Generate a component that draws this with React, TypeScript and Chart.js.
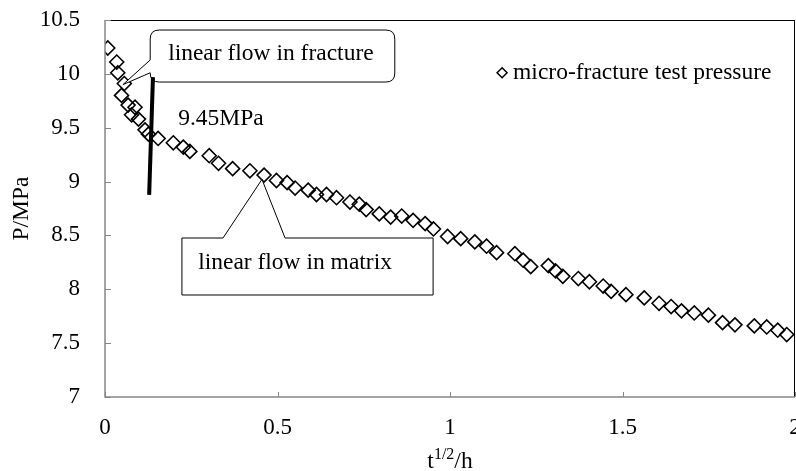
import { useEffect, useRef } from "react";
import { Chart, registerables } from "chart.js";

Chart.register(...registerables);

// ---- data ----
const timeSqrt = [
  0.008, 0.034, 0.037, 0.056, 0.048, 0.067, 0.087, 0.077, 0.097, 0.116,
  0.126, 0.154, 0.198, 0.227, 0.246, 0.302, 0.329, 0.37, 0.42, 0.461,
  0.497, 0.528, 0.551, 0.589, 0.613, 0.642, 0.671, 0.71, 0.737, 0.757,
  0.795, 0.828, 0.86, 0.893, 0.928, 0.952, 0.993, 1.031, 1.072, 1.106,
  1.135, 1.188, 1.212, 1.234, 1.285, 1.306, 1.327, 1.372, 1.404, 1.444,
  1.467, 1.51, 1.563, 1.606, 1.641, 1.671, 1.708, 1.749, 1.79, 1.826,
  1.882, 1.918, 1.95, 1.976,
];
const pressure = [
  10.24, 10.11, 10.01, 9.91, 9.8, 9.71, 9.69, 9.62, 9.58, 9.48,
  9.44, 9.4, 9.36, 9.32, 9.28, 9.24, 9.17, 9.12, 9.1, 9.06,
  9.01, 8.99, 8.94, 8.92, 8.88, 8.88, 8.85, 8.81, 8.79, 8.74,
  8.7, 8.67, 8.68, 8.64, 8.61, 8.56, 8.49, 8.47, 8.44, 8.4,
  8.34, 8.33, 8.27, 8.21, 8.22, 8.17, 8.12, 8.1, 8.07, 8.03,
  7.98, 7.95, 7.92, 7.87, 7.84, 7.8, 7.78, 7.76, 7.69, 7.67,
  7.66, 7.65, 7.62, 7.58,
];
const xTickValues = [0, 0.5, 1, 1.5, 2];
const yTickValues = [7, 7.5, 8, 8.5, 9, 9.5, 10, 10.5];

const seriesLabel = "micro-fracture test pressure";
const fractureLabel = "linear flow in fracture";
const matrixLabel = "linear flow in matrix";
const pressureNote = "9.45MPa";
const yTitle = "P/MPa";
const xTitleBase = "t";
const xTitleSup = "1/2";
const xTitleRest = "/h";

// ---- annotation anchors, in data units ----
const fractureBox = { x0: 0.131, x1: 0.84, yTop: 10.407, yBot: 9.924, baseTop: 10.129, baseBot: 10.01, tipX: 0.052, tipY: 9.9, textX: 0.183, textY: 10.19 };
const matrixBox = { x0: 0.223, x1: 0.951, yTop: 8.476, yBot: 7.947, base1: 0.342, base2: 0.522, tipX: 0.455, tipY: 9.02, textX: 0.27, textY: 8.25 };
const thickLine = { x0: 0.139, y0: 9.97, x1: 0.128, y1: 8.876 };
const noteAt = { x: 0.212, y: 9.58 };
const legendAt = { x: 1.151, y: 10.01 };

const SERIF = "'Liberation Serif', 'Times New Roman', serif";
const TEXT_SIZE = 23.5;
const TICK_SIZE = 23;

const decor = {
  id: "decor",
  afterDatasetsDraw(chart: any) {
    const { ctx, chartArea: ca } = chart;
    const xs = chart.scales.x;
    const ys = chart.scales.y;
    const px = (v: number) => xs.getPixelForValue(v);
    const py = (v: number) => ys.getPixelForValue(v);
    ctx.save();

    // frame
    ctx.lineWidth = 1;
    ctx.strokeStyle = "#000";
    ctx.beginPath();
    ctx.moveTo(ca.left, ca.top + 0.5);
    ctx.lineTo(ca.right, ca.top + 0.5);
    ctx.moveTo(ca.right - 0.5, ca.top);
    ctx.lineTo(ca.right - 0.5, ca.bottom);
    ctx.stroke();
    ctx.strokeStyle = "#868686";
    ctx.lineWidth = 1.5;
    ctx.beginPath();
    ctx.moveTo(ca.left, ca.top);
    ctx.lineTo(ca.left, ca.bottom);
    ctx.lineTo(ca.right, ca.bottom);
    ctx.stroke();
    // inside tick marks
    ctx.lineWidth = 1;
    ctx.beginPath();
    for (const v of xTickValues) {
      const x = Math.round(px(v)) + 0.5;
      ctx.moveTo(x, ca.bottom);
      ctx.lineTo(x, ca.bottom - 5);
    }
    for (const v of yTickValues) {
      const y = Math.round(py(v)) + 0.5;
      ctx.moveTo(ca.left, y);
      ctx.lineTo(ca.left + 6, y);
    }
    ctx.stroke();

    // fracture callout (rounded box with pointer on left edge)
    const f = fractureBox;
    const L = px(f.x0), R = px(f.x1), T = py(f.yTop), B = py(f.yBot);
    const r = 9;
    ctx.beginPath();
    ctx.moveTo(L, py(f.baseTop));
    ctx.lineTo(L, T + r);
    ctx.quadraticCurveTo(L, T, L + r, T);
    ctx.lineTo(R - r, T);
    ctx.quadraticCurveTo(R, T, R, T + r);
    ctx.lineTo(R, B - r);
    ctx.quadraticCurveTo(R, B, R - r, B);
    ctx.lineTo(L + r, B);
    ctx.quadraticCurveTo(L, B, L, B - r);
    ctx.lineTo(L, py(f.baseBot));
    ctx.lineTo(px(f.tipX), py(f.tipY));
    ctx.closePath();
    ctx.fillStyle = "#fff";
    ctx.fill();
    ctx.strokeStyle = "#000";
    ctx.lineWidth = 1;
    ctx.stroke();

    // matrix callout (plain box with pointer on top edge)
    const m = matrixBox;
    const mL = px(m.x0), mR = px(m.x1), mT = py(m.yTop), mB = py(m.yBot);
    ctx.beginPath();
    ctx.moveTo(mL, mT);
    ctx.lineTo(px(m.base1), mT);
    ctx.lineTo(px(m.tipX), py(m.tipY));
    ctx.lineTo(px(m.base2), mT);
    ctx.lineTo(mR, mT);
    ctx.lineTo(mR, mB);
    ctx.lineTo(mL, mB);
    ctx.closePath();
    ctx.fill();
    ctx.stroke();

    // thick line
    ctx.lineWidth = 4;
    ctx.beginPath();
    ctx.moveTo(px(thickLine.x0), py(thickLine.y0));
    ctx.lineTo(px(thickLine.x1), py(thickLine.y1));
    ctx.stroke();

    // texts
    ctx.fillStyle = "#000";
    ctx.font = `${TEXT_SIZE}px ${SERIF}`;
    ctx.textBaseline = "middle";
    ctx.textAlign = "left";
    ctx.fillText(fractureLabel, px(f.textX), py(f.textY));
    ctx.fillText(matrixLabel, px(m.textX), py(m.textY));
    ctx.fillText(pressureNote, px(noteAt.x), py(noteAt.y));

    // legend
    const lx = px(legendAt.x), ly = py(legendAt.y);
    ctx.lineWidth = 1.5;
    ctx.beginPath();
    ctx.moveTo(lx - 5, ly);
    ctx.lineTo(lx, ly - 5);
    ctx.lineTo(lx + 5, ly);
    ctx.lineTo(lx, ly + 5);
    ctx.closePath();
    ctx.stroke();
    ctx.fillText(seriesLabel, lx + 11, ly);

    // axis titles
    ctx.save();
    ctx.translate(22, (ca.top + ca.bottom) / 2);
    ctx.rotate(-Math.PI / 2);
    ctx.textAlign = "center";
    ctx.fillText(yTitle, 0, 0);
    ctx.restore();

    ctx.textBaseline = "alphabetic";
    const big = `${TEXT_SIZE}px ${SERIF}`;
    const small = `16px ${SERIF}`;
    ctx.font = big;
    const w1 = ctx.measureText(xTitleBase).width;
    const w3 = ctx.measureText(xTitleRest).width;
    ctx.font = small;
    const w2 = ctx.measureText(xTitleSup).width;
    const total = w1 + w2 + w3;
    let cx = (ca.left + ca.right) / 2 - total / 2;
    const base = 468;
    ctx.font = big;
    ctx.fillText(xTitleBase, cx, base);
    cx += w1;
    ctx.font = small;
    ctx.fillText(xTitleSup, cx, base - 9);
    cx += w2;
    ctx.font = big;
    ctx.fillText(xTitleRest, cx, base);

    ctx.restore();
  },
};

const zeroPad = (s: any) => {
  s.paddingTop = 0;
  s.paddingBottom = 0;
  s.paddingLeft = 0;
  s.paddingRight = 0;
};

export default function App() {
  const ref = useRef<HTMLCanvasElement | null>(null);
  useEffect(() => {
    if (!ref.current) return;
    const points = timeSqrt.map((t, i) => ({ x: t, y: pressure[i] }));
    const chart = new Chart(ref.current, {
      type: "scatter",
      data: {
        datasets: [
          {
            label: seriesLabel,
            data: points,
            pointStyle: "rectRot",
            pointRadius: 7,
            pointHoverRadius: 7,
            pointBorderWidth: 1.6,
            borderColor: "#000",
            backgroundColor: "rgba(0,0,0,0)",
            showLine: false,
          },
        ],
      },
      options: {
        responsive: false,
        animation: false,
        events: [],
        layout: { padding: { top: 20, right: 1, left: 0, bottom: 0 }, autoPadding: false },
        plugins: { legend: { display: false }, tooltip: { enabled: false } },
        scales: {
          x: {
            type: "linear",
            min: 0,
            max: 2,
            afterFit: (s: any) => { s.height = 74; zeroPad(s); },
            afterBuildTicks: (s: any) => { s.ticks = xTickValues.map((v) => ({ value: v })); },
            grid: { display: false, drawTicks: false },
            border: { display: false },
            ticks: {
              padding: 17,
              maxRotation: 0,
              autoSkip: false,
              color: "#000",
              font: { family: SERIF, size: TICK_SIZE },
              callback: (v: any) => String(v),
            },
          },
          y: {
            type: "linear",
            min: 7,
            max: 10.5,
            afterFit: (s: any) => { s.width = 105; zeroPad(s); },
            afterBuildTicks: (s: any) => { s.ticks = yTickValues.map((v) => ({ value: v })); },
            grid: { display: false, drawTicks: false },
            border: { display: false },
            ticks: {
              padding: 25,
              autoSkip: false,
              color: "#000",
              font: { family: SERIF, size: TICK_SIZE },
              callback: (v: any) => String(v),
            },
          },
        },
      },
      plugins: [decor],
    });
    return () => chart.destroy();
  }, []);
  return (
    <div style={{ position: "fixed", left: 0, top: 0, width: 796, height: 471, background: "#fff" }}>
      <canvas ref={ref} width={796} height={471} style={{ width: 796, height: 471, display: "block" }} />
    </div>
  );
}
